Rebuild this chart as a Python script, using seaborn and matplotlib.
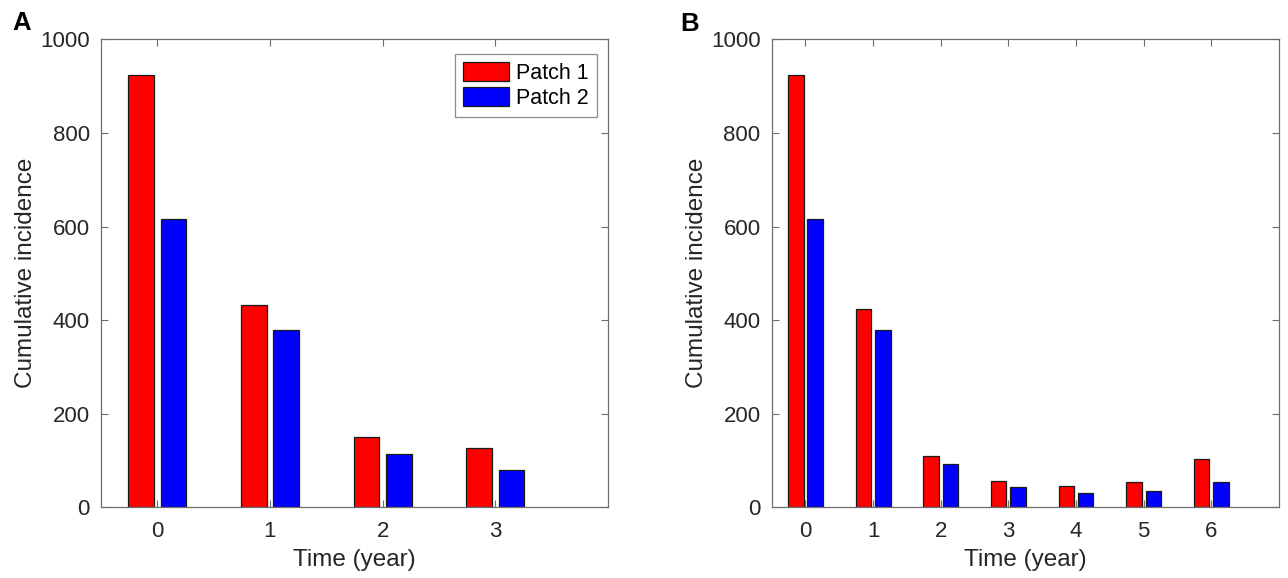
import numpy as np
import pandas as pd
import matplotlib
matplotlib.use("Agg")
import matplotlib.pyplot as plt
from matplotlib.patches import Patch
import seaborn as sns

# Cumulative incidence per year for each patch
years_a = [0, 1, 2, 3]
patch1_a = [924, 432, 150, 127]
patch2_a = [617, 379, 114, 79]

years_b = [0, 1, 2, 3, 4, 5, 6]
patch1_b = [924, 423, 110, 56, 45, 55, 104]
patch2_b = [617, 379, 93, 43, 31, 34, 55]

series_names = ["Patch 1", "Patch 2"]
colors = ["#ff0000", "#0000ff"]
y_ticks = [0, 200, 400, 600, 800, 1000]

sns.set_theme(style="white")
plt.rcParams["font.family"] = ["Liberation Sans", "DejaVu Sans"]

text_color = "#262626"
axis_color = "#6e6e6e"


def long_frame(years, p1, p2):
    return pd.DataFrame({
        "year": [str(y) for y in years] * 2,
        "value": list(p1) + list(p2),
        "patch": [series_names[0]] * len(years) + [series_names[1]] * len(years),
    })


fig = plt.figure(figsize=(12.88, 5.78), dpi=100)
ax_a = fig.add_axes([0.0784, 0.1223, 0.3936, 0.8097])
ax_b = fig.add_axes([0.5991, 0.1223, 0.3939, 0.8097])

panels = [
    (ax_a, years_a, patch1_a, patch2_a, 4.0),
    (ax_b, years_b, patch1_b, patch2_b, 7.0),
]

for ax, years, p1, p2, xmax in panels:
    df = long_frame(years, p1, p2)
    sns.barplot(data=df, x="year", y="value", hue="patch",
                hue_order=series_names, palette=colors,
                width=0.572, gap=0.2, saturation=1,
                edgecolor="#1a1a1a", linewidth=0.9,
                errorbar=None, ax=ax)
    ax.set_xlim(-0.5, xmax)
    ax.set_ylim(0, 1000)
    ax.set_yticks(y_ticks)
    ax.set_xticks(range(len(years)))
    ax.set_xticklabels([str(y) for y in years])
    ax.set_xlabel("Time (year)", fontsize=17.5, color=text_color, labelpad=5)
    ax.set_ylabel("Cumulative incidence", fontsize=17.5, color=text_color, labelpad=2)
    ax.tick_params(axis="both", direction="in", length=5, width=0.8,
                   color=axis_color, labelsize=16, labelcolor=text_color,
                   top=True, right=True, bottom=True, left=True)
    ax.tick_params(axis="x", pad=10)
    ax.tick_params(axis="y", pad=8)
    for sp in ax.spines.values():
        sp.set_visible(True)
        sp.set_color(axis_color)
        sp.set_linewidth(0.9)
    ax.get_legend().remove()

# Panel letters
fig.text(12 / 1288, 1 - 30 / 578, "A", fontsize=18.5, fontweight="bold",
         color="black", ha="left", va="baseline")
fig.text(680 / 1288, 1 - 31 / 578, "B", fontsize=18.5, fontweight="bold",
         color="black", ha="left", va="baseline")

handles = [Patch(facecolor=c, edgecolor="#1a1a1a", linewidth=0.9) for c in colors]
leg = ax_a.legend(handles, series_names, loc="upper right",
                  bbox_to_anchor=(0.9775, 0.969), fontsize=15.5,
                  handlelength=2.15, handleheight=1.0, handletextpad=0.3,
                  labelspacing=0.15, borderpad=0.38, borderaxespad=0,
                  frameon=True, fancybox=False)
leg.get_frame().set_edgecolor(axis_color)
leg.get_frame().set_linewidth(0.9)
for t in leg.get_texts():
    t.set_color("black")

fig.savefig("out.png", dpi=100, facecolor="white")
